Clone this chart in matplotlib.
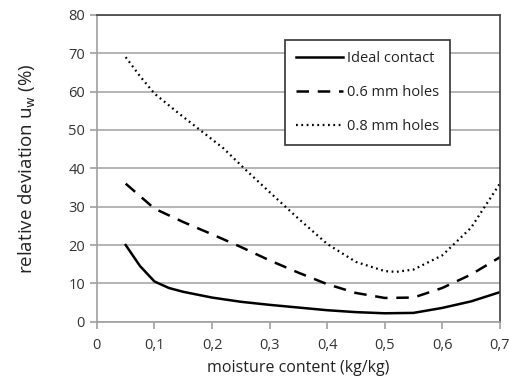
import matplotlib
matplotlib.use("Agg")
import matplotlib.pyplot as plt

x_ideal = [0.05, 0.075, 0.1, 0.125, 0.15, 0.2, 0.25, 0.3, 0.35, 0.4, 0.45, 0.5, 0.55, 0.6, 0.65, 0.7]
y_ideal = [20, 14.5, 10.5, 8.8, 7.8, 6.3, 5.2, 4.4, 3.7, 3.0, 2.5, 2.2, 2.3, 3.6, 5.3, 7.7]

x_06 = [0.05, 0.1, 0.15, 0.2, 0.25, 0.3, 0.35, 0.4, 0.45, 0.5, 0.55, 0.6, 0.65, 0.7]
y_06 = [36, 29.5, 26, 22.8, 19.5, 16, 12.8, 9.8, 7.5, 6.2, 6.3, 8.8, 12.3, 16.8]

x_08 = [0.05, 0.075, 0.1, 0.14, 0.18, 0.22, 0.26, 0.3, 0.35, 0.4, 0.45, 0.5, 0.52, 0.55, 0.6, 0.65, 0.7]
y_08 = [69, 64, 59.5, 54.6, 49.9, 45.2, 39.4, 33.8, 26.9, 20.3, 15.6, 13.2, 13.0, 13.6, 17.3, 24.5, 36]

xticks = [0, 0.1, 0.2, 0.3, 0.4, 0.5, 0.6, 0.7]
xticklabels = ["0", "0,1", "0,2", "0,3", "0,4", "0,5", "0,6", "0,7"]
yticks = [0, 10, 20, 30, 40, 50, 60, 70, 80]

plt.rcParams['font.family'] = ['Open Sans', 'DejaVu Sans']

fig = plt.figure(figsize=(5.1, 3.83), dpi=100)
ax = fig.add_axes([0.19, 0.16, 0.79, 0.801])

ax.plot(x_ideal, y_ideal, color='black', lw=1.8, ls='-', label='Ideal contact')
ax.plot(x_06, y_06, color='black', lw=1.8, ls=(0, (5, 3.5)), label='0.6 mm holes')
ax.plot(x_08, y_08, color='black', lw=1.6, ls=(0, (0.8, 1.6)), label='0.8 mm holes')

ax.set_xlim(0, 0.7)
ax.set_ylim(0, 80)
ax.set_xticks(xticks)
ax.set_xticklabels(xticklabels)
ax.set_yticks(yticks)
ax.yaxis.grid(True, color='#a8a8a8', lw=1.2)
ax.set_axisbelow(True)

for s in ['left', 'bottom']:
    ax.spines[s].set_color('#a0a0a0')
    ax.spines[s].set_linewidth(1.2)
for s in ['top', 'right']:
    ax.spines[s].set_color('#404040')
    ax.spines[s].set_linewidth(1.2)

ax.tick_params(axis='both', colors='#a0a0a0', labelcolor='#333333', labelsize=10.5,
               length=5, width=1.2, direction='out')
ax.tick_params(axis='x', pad=7)

ax.set_xlabel('moisture content (kg/kg)', fontsize=11.5, color='#222222', labelpad=5)
ax.set_ylabel('relative deviation u$_\\mathrm{w}$ (%)', fontsize=13.5, color='#222222', labelpad=22)

leg = ax.legend(loc='upper left', bbox_to_anchor=(0.468, 0.917), frameon=True, fancybox=False,
                edgecolor='#333333', fontsize=10.5, handlelength=3.2, labelspacing=1.3,
                borderpad=0.75, handletextpad=0.3, borderaxespad=0)
leg.get_frame().set_linewidth(1.2)
leg.get_frame().set_alpha(1)
for t in leg.get_texts():
    t.set_color('#222222')

fig.savefig('out.png', dpi=100)
